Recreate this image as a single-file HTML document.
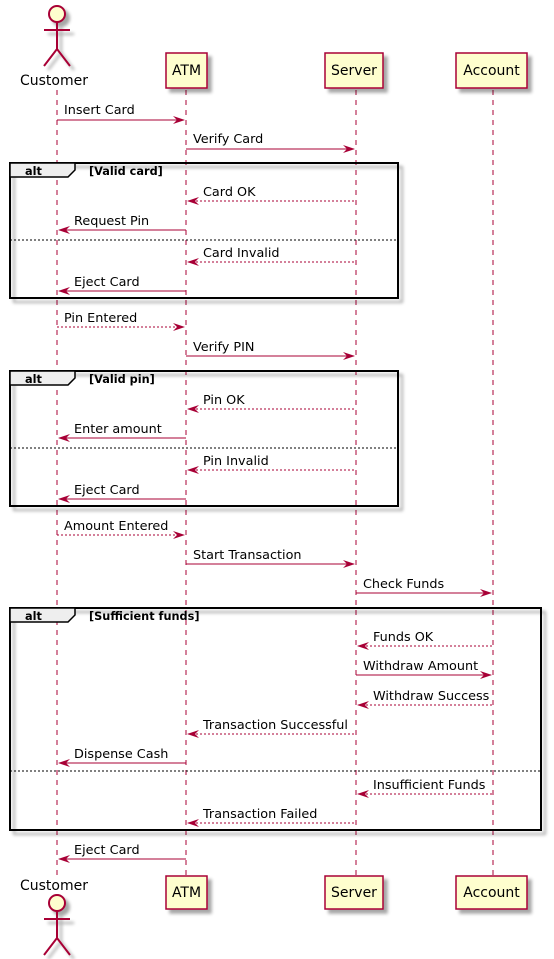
<!DOCTYPE html>
<html><head><meta charset="utf-8"><style>
html,body{margin:0;padding:0;background:#fff;}
svg{display:block;font-family:"DejaVu Sans","Liberation Sans",sans-serif;}
</style></head><body>
<svg width="554" height="959" viewBox="0 0 554 959" xmlns="http://www.w3.org/2000/svg">
<defs>
<filter id="sh" x="-20%" y="-20%" width="150%" height="150%"><feGaussianBlur in="SourceAlpha" stdDeviation="1.5"/><feOffset dx="4" dy="4"/><feComponentTransfer><feFuncA type="linear" slope="0.35"/></feComponentTransfer><feMerge><feMergeNode/><feMergeNode in="SourceGraphic"/></feMerge></filter>
</defs>
<g stroke="#A80036" stroke-width="1" stroke-dasharray="5,5">
<line x1="57" y1="90" x2="57" y2="875"/>
<line x1="186" y1="90" x2="186" y2="875"/>
<line x1="356" y1="90" x2="356" y2="875"/>
<line x1="493" y1="90" x2="493" y2="875"/>
</g>
<g fill="#FEFECE" stroke="#A80036" stroke-width="2" filter="url(#sh)">
<circle cx="57" cy="14" r="8"/>
<path d="M57 22 V49 M44 30 H70 M44 66 L57 49 L70 66" fill="none"/>
<circle cx="57" cy="903" r="8"/>
<path d="M57 911 V938 M44 919 H70 M44 955 L57 938 L70 955" fill="none"/>
</g>
<g font-size="14" fill="#000" text-anchor="middle">
<text x="54" y="85">Customer</text>
<text x="54" y="890">Customer</text>
</g>
<g fill="#FEFECE" stroke="#A80036" stroke-width="1.5" filter="url(#sh)">
<rect x="166" y="53" width="41" height="35"/>
<rect x="325" y="53" width="58" height="35"/>
<rect x="456" y="53" width="71" height="35"/>
<rect x="166" y="876" width="41" height="33"/>
<rect x="325" y="876" width="58" height="33"/>
<rect x="456" y="876" width="71" height="33"/>
</g>
<g font-size="14" fill="#000" text-anchor="middle">
<text x="186.5" y="75">ATM</text><text x="354" y="75">Server</text><text x="491.5" y="75">Account</text>
<text x="186.5" y="897">ATM</text><text x="354" y="897">Server</text><text x="491.5" y="897">Account</text>
</g>
<g fill="none" stroke="#000" stroke-width="2" filter="url(#sh)">
<rect x="10" y="163" width="388" height="135"/>
<rect x="10" y="371" width="388" height="135"/>
<rect x="10" y="608" width="531" height="222"/>
</g>
<g fill="#EEEEEE" stroke="#000" stroke-width="1.5">
<path d="M10 163 H75 V170 L68 177 H10 Z"/>
<path d="M10 371 H75 V378 L68 385 H10 Z"/>
<path d="M10 608 H75 V615 L68 622 H10 Z"/>
</g>
<g stroke="#000" stroke-width="1" stroke-dasharray="2,2">
<line x1="10" y1="240" x2="398" y2="240"/>
<line x1="10" y1="448" x2="398" y2="448"/>
<line x1="10" y1="771" x2="541" y2="771"/>
</g>
<g font-size="11.3" font-weight="bold" fill="#000">
<text x="25" y="175">alt</text><text x="89" y="175">[Valid card]</text>
<text x="25" y="383">alt</text><text x="89" y="383">[Valid pin]</text>
<text x="25" y="620">alt</text><text x="89" y="620">[Sufficient funds]</text>
</g>
<g stroke="#A80036" stroke-width="1" fill="none">
<line x1="57" y1="120" x2="184" y2="120"/>
<line x1="186" y1="149" x2="354" y2="149"/>
<line x1="188" y1="201" x2="356" y2="201" stroke-dasharray="2,2"/>
<line x1="59" y1="230" x2="186" y2="230"/>
<line x1="188" y1="262" x2="356" y2="262" stroke-dasharray="2,2"/>
<line x1="59" y1="291" x2="186" y2="291"/>
<line x1="57" y1="327" x2="184" y2="327" stroke-dasharray="2,2"/>
<line x1="186" y1="356" x2="354" y2="356"/>
<line x1="188" y1="409" x2="356" y2="409" stroke-dasharray="2,2"/>
<line x1="59" y1="438" x2="186" y2="438"/>
<line x1="188" y1="470" x2="356" y2="470" stroke-dasharray="2,2"/>
<line x1="59" y1="499" x2="186" y2="499"/>
<line x1="57" y1="535" x2="184" y2="535" stroke-dasharray="2,2"/>
<line x1="186" y1="564" x2="354" y2="564"/>
<line x1="356" y1="593" x2="491" y2="593"/>
<line x1="358" y1="646" x2="493" y2="646" stroke-dasharray="2,2"/>
<line x1="356" y1="675" x2="491" y2="675"/>
<line x1="358" y1="705" x2="493" y2="705" stroke-dasharray="2,2"/>
<line x1="188" y1="734" x2="356" y2="734" stroke-dasharray="2,2"/>
<line x1="59" y1="763" x2="186" y2="763"/>
<line x1="358" y1="794" x2="493" y2="794" stroke-dasharray="2,2"/>
<line x1="188" y1="823" x2="356" y2="823" stroke-dasharray="2,2"/>
<line x1="59" y1="859" x2="186" y2="859"/>
</g>
<g fill="#A80036">
<path d="M185 120 l-12 -4 l4 4 l-4 4z"/>
<path d="M355 149 l-12 -4 l4 4 l-4 4z"/>
<path d="M185 327 l-12 -4 l4 4 l-4 4z"/>
<path d="M355 356 l-12 -4 l4 4 l-4 4z"/>
<path d="M185 535 l-12 -4 l4 4 l-4 4z"/>
<path d="M355 564 l-12 -4 l4 4 l-4 4z"/>
<path d="M492 593 l-12 -4 l4 4 l-4 4z"/>
<path d="M492 675 l-12 -4 l4 4 l-4 4z"/>
<path d="M187 201 l12 -4 l-4 4 l4 4z"/>
<path d="M58 230 l12 -4 l-4 4 l4 4z"/>
<path d="M187 262 l12 -4 l-4 4 l4 4z"/>
<path d="M58 291 l12 -4 l-4 4 l4 4z"/>
<path d="M187 409 l12 -4 l-4 4 l4 4z"/>
<path d="M58 438 l12 -4 l-4 4 l4 4z"/>
<path d="M187 470 l12 -4 l-4 4 l4 4z"/>
<path d="M58 499 l12 -4 l-4 4 l4 4z"/>
<path d="M357 646 l12 -4 l-4 4 l4 4z"/>
<path d="M357 705 l12 -4 l-4 4 l4 4z"/>
<path d="M187 734 l12 -4 l-4 4 l4 4z"/>
<path d="M58 763 l12 -4 l-4 4 l4 4z"/>
<path d="M357 794 l12 -4 l-4 4 l4 4z"/>
<path d="M187 823 l12 -4 l-4 4 l4 4z"/>
<path d="M58 859 l12 -4 l-4 4 l4 4z"/>
</g>
<g font-size="12.8" fill="#000">
<text x="64" y="114">Insert Card</text>
<text x="193" y="143">Verify Card</text>
<text x="203" y="196">Card OK</text>
<text x="74" y="225">Request Pin</text>
<text x="203" y="257">Card Invalid</text>
<text x="74" y="286">Eject Card</text>
<text x="64" y="322">Pin Entered</text>
<text x="193" y="351">Verify PIN</text>
<text x="203" y="404">Pin OK</text>
<text x="74" y="433">Enter amount</text>
<text x="203" y="465">Pin Invalid</text>
<text x="74" y="494">Eject Card</text>
<text x="64" y="530">Amount Entered</text>
<text x="193" y="559">Start Transaction</text>
<text x="363" y="588">Check Funds</text>
<text x="373" y="641">Funds OK</text>
<text x="363" y="670">Withdraw Amount</text>
<text x="373" y="700">Withdraw Success</text>
<text x="203" y="729">Transaction Successful</text>
<text x="74" y="758">Dispense Cash</text>
<text x="373" y="789">Insufficient Funds</text>
<text x="203" y="818">Transaction Failed</text>
<text x="74" y="854">Eject Card</text>
</g>
</svg>
</body></html>
